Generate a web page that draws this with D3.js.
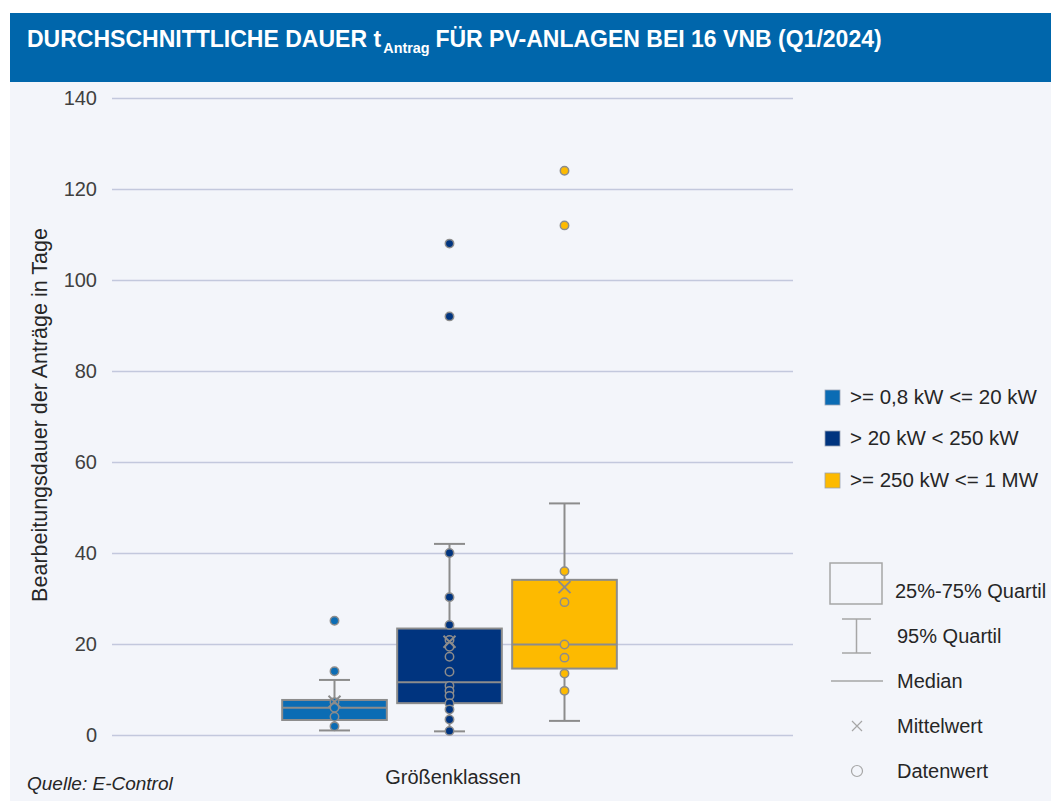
<!DOCTYPE html>
<html>
<head>
<meta charset="utf-8">
<script src="https://cdn.jsdelivr.net/npm/d3@7"></script>
<style>
  body { margin: 0; background: #fff; }
  text { font-family: "Liberation Sans", Arial, sans-serif; fill: #262626; }
</style>
</head>
<body>
<div id="chart"></div>
<script>
// series (Größenklassen)
const series = ['>= 0,8 kW <= 20 kW', '> 20 kW < 250 kW', '>= 250 kW <= 1 MW'];
const colors = ['#0B6CB4', '#00347F', '#FDBA00'];

// box statistics, days
const whiskerLow = [1.0, 0.8, 3.1];
const q1 = [3.3, 7.0, 14.6];
const median = [6.0, 11.6, 19.9];
const q3 = [7.7, 23.4, 34.1];
const whiskerHigh = [12.1, 42.0, 50.9];
const means = [7.3, 20.5, 32.5];

// single values (Datenwerte)
const points1 = [25.1, 14.0, 7.2, 6.0, 4.0, 1.9];
const points2 = [108, 92, 40, 30.3, 24.2, 20.9, 19.4, 17.2, 13.9, 10.8, 9.7, 8.6, 7.0, 5.6, 3.4, 0.9];
const points3 = [124, 112, 36, 29.2, 19.9, 17.0, 13.5, 9.7];
const pointSets = [points1, points2, points3];

const yTicks = [0, 20, 40, 60, 80, 100, 120, 140];
const statLabels = ['25%-75% Quartil', '95% Quartil', 'Median', 'Mittelwert', 'Datenwert'];

const width = 1051;
const height = 801;
const grey = '#8C8C8C';

const svg = d3.select('#chart')
  .append('svg')
  .attr('width', width)
  .attr('height', height);

// background + title band
svg.append('rect')
  .attr('x', 10).attr('y', 13)
  .attr('width', width - 10).attr('height', height - 13)
  .attr('fill', '#F3F5FA');

svg.append('rect')
  .attr('x', 10).attr('y', 13)
  .attr('width', width - 10).attr('height', 69)
  .attr('fill', '#0066AB');

// title in three pieces so the subscript sits cleanly after the "t"
const titleG = svg.append('g');
const tStyle = (sel, size) => sel
  .style('font-size', size)
  .style('font-weight', 'bold')
  .style('fill', '#fff');

const part1 = tStyle(titleG.append('text').attr('x', 0).attr('y', 0), '24px')
  .text('DURCHSCHNITTLICHE DAUER t');
let w1 = part1.node().getComputedTextLength();
const sub = tStyle(titleG.append('text').attr('x', w1 + 2).attr('y', 6), '15px')
  .text('Antrag');
let w2 = sub.node().getComputedTextLength();
const part3 = tStyle(titleG.append('text').attr('x', w1 + 2 + w2 + 6).attr('y', 0), '24px')
  .text('FÜR PV-ANLAGEN BEI 16 VNB (Q1/2024)');
const total = w1 + 2 + w2 + 6 + part3.node().getComputedTextLength();
titleG.attr('transform', `translate(27, 47) scale(${855 / total}, 1)`);

// scales
const yScale = d3.scaleLinear()
  .domain([0, 140])
  .range([735, 98]);

const xScale = d3.scaleBand()
  .domain(series)
  .range([277, 622])
  .paddingInner(0.09)
  .paddingOuter(0.045);

const yAxis = d3.axisLeft(yScale)
  .tickValues(yTicks)
  .tickSize(-681)
  .tickPadding(15)
  .tickFormat(d3.format('d'));

const gy = svg.append('g')
  .attr('transform', 'translate(112, 0)')
  .call(yAxis);
gy.select('.domain').remove();
gy.selectAll('.tick line')
  .attr('stroke', '#C3C8DD')
  .attr('stroke-width', 1.5);
gy.selectAll('.tick text')
  .style('font-size', '20px')
  .style('fill', '#404040');

svg.append('text')
  .attr('transform', 'translate(47, 415) rotate(-90)')
  .attr('text-anchor', 'middle')
  .style('font-size', '21.5px')
  .text('Bearbeitungsdauer der Anträge in Tage');

svg.append('text')
  .attr('x', 453).attr('y', 784)
  .attr('text-anchor', 'middle')
  .style('font-size', '20px')
  .text('Größenklassen');

svg.append('text')
  .attr('x', 27).attr('y', 790)
  .style('font-size', '19px')
  .style('font-style', 'italic')
  .text('Quelle: E-Control');

// boxes
const bw = xScale.bandwidth();
const capW = 31;

const boxes = svg.selectAll('.box')
  .data(series)
  .enter()
  .append('g')
  .attr('class', 'box');

boxes.append('line')
  .attr('x1', (d) => xScale(d) + bw / 2)
  .attr('x2', (d) => xScale(d) + bw / 2)
  .attr('y1', (d, i) => yScale(whiskerLow[i]))
  .attr('y2', (d, i) => yScale(whiskerHigh[i]))
  .attr('stroke', grey).attr('stroke-width', 2);

[whiskerLow, whiskerHigh].forEach((arr) => {
  boxes.append('line')
    .attr('x1', (d) => xScale(d) + bw / 2 - capW / 2)
    .attr('x2', (d) => xScale(d) + bw / 2 + capW / 2)
    .attr('y1', (d, i) => yScale(arr[i]))
    .attr('y2', (d, i) => yScale(arr[i]))
    .attr('stroke', grey).attr('stroke-width', 2);
});

boxes.append('rect')
  .attr('x', (d) => xScale(d))
  .attr('y', (d, i) => yScale(q3[i]))
  .attr('width', bw)
  .attr('height', (d, i) => yScale(q1[i]) - yScale(q3[i]))
  .attr('fill', (d, i) => colors[i])
  .attr('stroke', grey).attr('stroke-width', 2);

boxes.append('line')
  .attr('x1', (d) => xScale(d))
  .attr('x2', (d) => xScale(d) + bw)
  .attr('y1', (d, i) => yScale(median[i]))
  .attr('y2', (d, i) => yScale(median[i]))
  .attr('stroke', grey).attr('stroke-width', 2);

boxes.each(function (d, i) {
  d3.select(this).selectAll('circle')
    .data(pointSets[i])
    .enter()
    .append('circle')
    .attr('cx', xScale(d) + bw / 2)
    .attr('cy', (v) => yScale(v))
    .attr('r', 4.2)
    .attr('fill', colors[i])
    .attr('stroke', grey)
    .attr('stroke-width', 1.5);
});

const xs = 6;
boxes.append('path')
  .attr('d', (d, i) => {
    const cx = xScale(d) + bw / 2;
    const cy = yScale(means[i]);
    return `M${cx - xs},${cy - xs}L${cx + xs},${cy + xs}M${cx - xs},${cy + xs}L${cx + xs},${cy - xs}`;
  })
  .attr('fill', 'none')
  .attr('stroke', grey).attr('stroke-width', 2);

// legend: series
const legend = svg.append('g');
const legRows = [397, 438, 480];
legend.selectAll('rect')
  .data(series)
  .enter()
  .append('rect')
  .attr('x', 825)
  .attr('y', (d, i) => legRows[i] - 7)
  .attr('width', 15).attr('height', 15)
  .attr('fill', (d, i) => colors[i])
  .attr('stroke', '#9AA3B5').attr('stroke-width', 0.8);
legend.selectAll('text')
  .data(series)
  .enter()
  .append('text')
  .attr('x', 850)
  .attr('y', (d, i) => legRows[i] + 7)
  .style('font-size', '20.5px')
  .text((d) => d);

// legend: statistics
const stat = svg.append('g');
const statY = [591, 636, 681, 726, 771];
stat.append('rect')
  .attr('x', 830).attr('y', 563)
  .attr('width', 52).attr('height', 41)
  .attr('fill', 'none')
  .attr('stroke', '#A6A6A6').attr('stroke-width', 1.5);
stat.append('path')
  .attr('d', 'M842,619H871M856.5,619V653M842,653H871')
  .attr('fill', 'none')
  .attr('stroke', '#A6A6A6').attr('stroke-width', 1.5);
stat.append('line')
  .attr('x1', 831).attr('x2', 883)
  .attr('y1', 681).attr('y2', 681)
  .attr('stroke', '#A6A6A6').attr('stroke-width', 1.5);
stat.append('path')
  .attr('d', 'M852,721L862,731M852,731L862,721')
  .attr('fill', 'none')
  .attr('stroke', '#A6A6A6').attr('stroke-width', 1.2);
stat.append('circle')
  .attr('cx', 857).attr('cy', 771).attr('r', 5.5)
  .attr('fill', 'none')
  .attr('stroke', '#A6A6A6').attr('stroke-width', 1.2);
stat.selectAll('text')
  .data(statLabels)
  .enter()
  .append('text')
  .attr('x', (d, i) => (i === 0 ? 895 : 897))
  .attr('y', (d, i) => statY[i] + 7)
  .style('font-size', '20px')
  .text((d) => d);
</script>
</body>
</html>
